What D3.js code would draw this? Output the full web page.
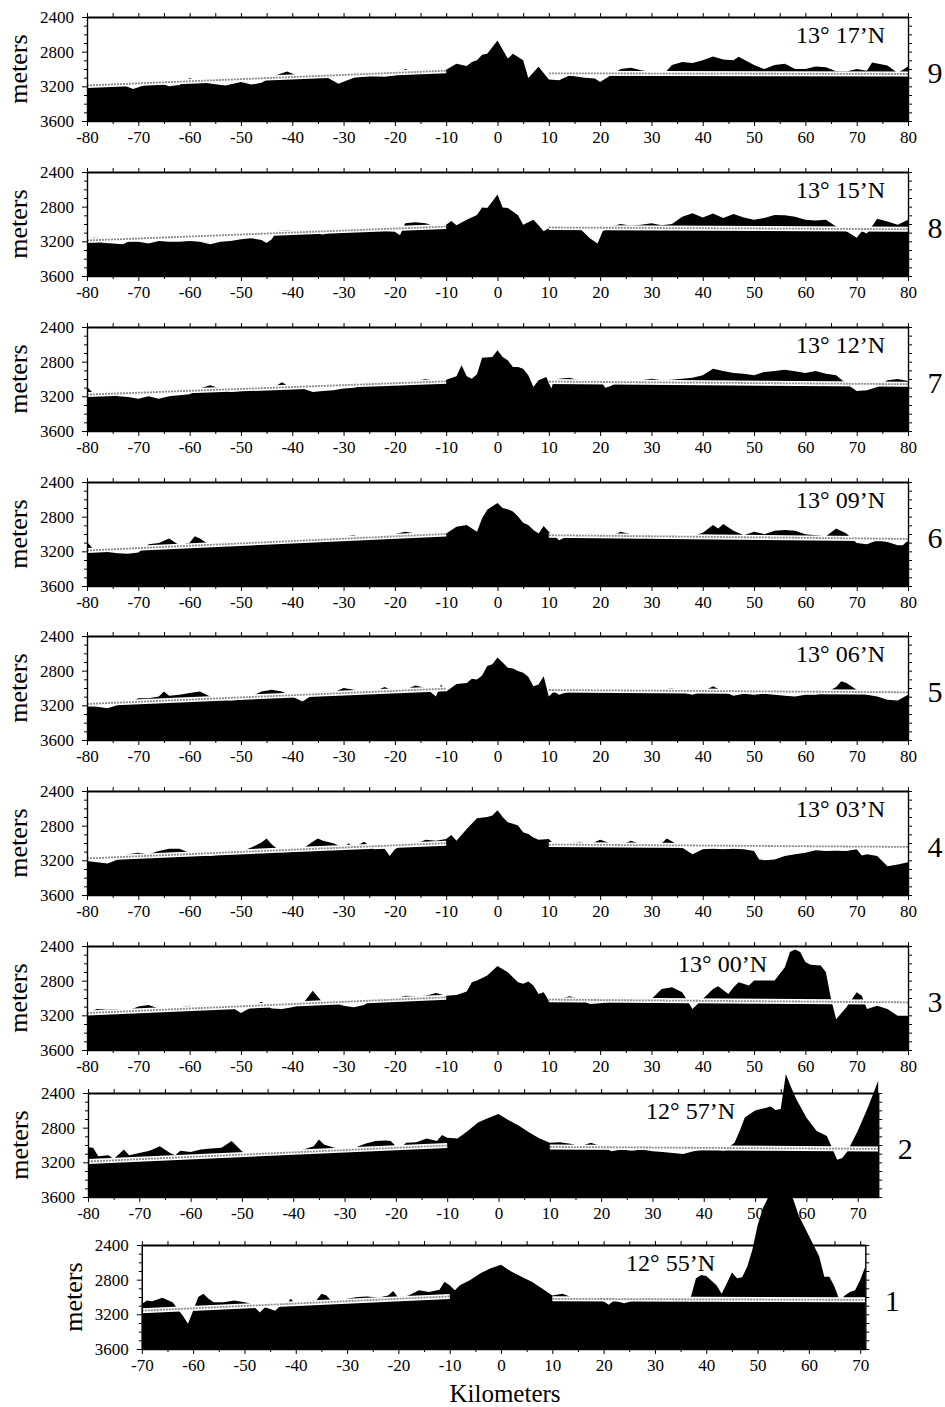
<!DOCTYPE html>
<html lang="en">
<head>
<meta charset="UTF-8" />
<title>Bathymetric profiles across the axis</title>
<script src="https://cdn.jsdelivr.net/npm/d3@7"></script>
<style>
    body { margin: 0; background: #fff; }
    svg { display: block; font-family: "Liberation Serif", "Times New Roman", serif; }
    .axis path, .axis line { stroke: #000; }
    .axis text { fill: #000; font-family: "Liberation Serif", "Times New Roman", serif; }
</style>
</head>
<body>
<svg id="chart" width="945" height="1407"></svg>
<script>
    // profiles, top to bottom
    const panelIds = [9, 8, 7, 6, 5, 4, 3, 2, 1];
    const latLabels = ["13° 17’N", "13° 15’N", "13° 12’N", "13° 09’N", "13° 06’N",
                       "13° 03’N", "13° 00’N", "12° 57’N", "12° 55’N"];
    const kmRanges = [[-80, 80], [-80, 80], [-80, 80], [-80, 80], [-80, 80],
                      [-80, 80], [-80, 80], [-80, 74], [-70, 71]];
    const kmTicks = [-80, -70, -60, -50, -40, -30, -20, -10, 0, 10, 20, 30, 40, 50, 60, 70, 80];
    const kmMinorTicks = [-75, -65, -55, -45, -35, -25, -15, -5, 5, 15, 25, 35, 45, 55, 65, 75];
    const depthTicks = [2400, 2800, 3200, 3600];
    const depthMinorTicks = [2500, 2600, 2700, 2900, 3000, 3100, 3300, 3400, 3500];

    // [km, depth m]
    const prof9 = [[-80,3200],[-78,3195],[-76,3200],[-74,3155],[-73,3185],[-71,3230],[-69,3190],[-67,3135],[-65,3180],[-64,3200],[-62,3185],[-60,3105],[-58,3140],[-57,3160],[-55,3175],[-53,3190],[-50,3150],[-48,3180],[-46,3160],[-44,3090],[-41,3030],[-38,3100],[-35,3100],[-33,3105],[-31,3170],[-28,3100],[-25,3085],[-22,3090],[-20,3075],[-18,3000],[-16,3040],[-14,3000],[-12,3030],[-10,3010],[-8,2940],[-6,2965],[-5,2920],[-4,2900],[-3,2835],[-2,2825],[0,2670],[2,2880],[3,2825],[5,2900],[6,3105],[8,2975],[10,3120],[12,3130],[14,3075],[17,3100],[19,3110],[20,3150],[22,3075],[24,3000],[26,2985],[28,3015],[30,3035],[32,3085],[34,2955],[36,2920],[38,2930],[40,2900],[42,2855],[44,2890],[46,2900],[47,2860],[50,2955],[52,3000],[54,2955],[56,2940],[58,3000],[60,3000],[62,2970],[64,2980],[66,3025],[68,3030],[70,3000],[72,3020],[73,2925],[76,2960],[78,3045],[80,2970]];
    const prof8 = [[-80,3205],[-79,3160],[-78,3160],[-77,3215],[-75,3225],[-73,3235],[-72,3205],[-70,3205],[-68,3225],[-66,3195],[-64,3205],[-62,3205],[-60,3195],[-58,3205],[-56,3235],[-54,3205],[-52,3195],[-50,3175],[-48,3165],[-46,3185],[-45,3220],[-44,3175],[-43,3080],[-40,3070],[-38,3080],[-36,3105],[-34,3120],[-32,3090],[-30,3095],[-28,3085],[-26,3085],[-24,3070],[-22,3080],[-20,3090],[-19,3130],[-18,2990],[-16,2980],[-14,2990],[-12,3030],[-10,3010],[-9,2965],[-8,3015],[-6,2950],[-4,2895],[-3,2810],[-2,2815],[-1,2740],[0,2660],[1,2810],[2,2815],[3,2855],[4,2900],[5,3010],[6,2980],[7,2950],[8,3015],[9,3085],[10,3050],[16,3050],[18,3165],[19.5,3225],[20.5,3085],[22,3030],[24,3000],[26,3020],[28,3010],[30,2990],[32,3015],[34,3000],[36,2915],[38,2875],[40,2925],[42,2880],[44,2930],[46,2885],[48,2925],[50,2950],[52,2930],[54,2895],[56,2900],[58,2915],[60,2950],[62,2960],[64,2950],[66,3030],[68,3085],[70,3160],[71,3085],[72,3110],[74,2940],[76,2970],[78,3010],[80,2950]];
    const prof7 = [[-80,3092],[-79,3150],[-78,3188],[-76,3162],[-75,3142],[-74,3200],[-72,3208],[-70,3227],[-68,3200],[-66,3227],[-64,3200],[-62,3188],[-60,3177],[-58,3111],[-56,3073],[-54,3111],[-52,3150],[-50,3138],[-48,3131],[-46,3123],[-44,3111],[-42,3038],[-40,3111],[-38,3111],[-36,3150],[-34,3138],[-32,3131],[-30,3111],[-28,3100],[-26,3073],[-24,3046],[-22,3035],[-20,3046],[-18,3023],[-16,3027],[-14,2996],[-12,3023],[-10,3008],[-8,2969],[-7,2842],[-6,2969],[-5,2996],[-4,2946],[-3,2754],[-1,2746],[0,2669],[1,2746],[2,2785],[3,2862],[4,2862],[5,2881],[6,2958],[7,3092],[8,3015],[9.5,2977],[10.5,3111],[11,3008],[12,2996],[14,2985],[16,3015],[18,3023],[20,3015],[21,3100],[22,3085],[24,3015],[26,3023],[28,3015],[30,2996],[32,3015],[34,3008],[36,2996],[38,2985],[40,2958],[42,2881],[44,2908],[46,2931],[48,2938],[50,2958],[52,2919],[54,2908],[56,2892],[58,2912],[60,2931],[62,2908],[64,2938],[66,2958],[68,3054],[70,3138],[72,3131],[74,3092],[76,3015],[78,3000],[80,3023]];
    const prof6 = [[-80,3092],[-79,3158],[-78,3170],[-76,3209],[-74,3221],[-72,3229],[-70,3213],[-68,3119],[-66,3104],[-64,3053],[-62,3131],[-60,3100],[-59,3025],[-58,3053],[-56,3131],[-54,3119],[-52,3111],[-50,3119],[-48,3111],[-46,3092],[-44,3111],[-42,3092],[-40,3072],[-38,3065],[-36,3092],[-34,3092],[-32,3072],[-30,3033],[-28,3014],[-26,3053],[-24,3025],[-22,3014],[-20,3002],[-18,2975],[-16,2994],[-14,3025],[-12,2975],[-10,2994],[-8,2916],[-6,2896],[-4,2975],[-3,2818],[-2,2721],[-1,2681],[0,2642],[1,2701],[2,2713],[3,2740],[4,2799],[5,2869],[6,2896],[7,2955],[8,2994],[9,2908],[10,2975],[11,3014],[12,3072],[14,3014],[16,3002],[18,2994],[20,3014],[22,3025],[24,2975],[26,3002],[28,3014],[30,3025],[32,3014],[34,3014],[36,3025],[38,3025],[40,2986],[42,2896],[43,2936],[44,2885],[46,2963],[48,3014],[50,2975],[52,3002],[54,2963],[56,2955],[58,2963],[60,3002],[62,3014],[64,3025],[66,2936],[68,2994],[70,3104],[72,3119],[74,3072],[76,3092],[78,3131],[79,3131],[80,3072]];
    const prof5 = [[-80,3208],[-78,3215],[-76,3235],[-74,3196],[-72,3176],[-70,3117],[-68,3117],[-66,3098],[-65,3039],[-64,3090],[-62,3078],[-60,3059],[-58,3039],[-56,3098],[-54,3137],[-52,3145],[-50,3137],[-48,3098],[-46,3039],[-44,3019],[-42,3039],[-40,3098],[-38,3157],[-36,3078],[-34,3039],[-32,3051],[-30,3000],[-28,3019],[-26,3059],[-24,3039],[-22,2988],[-20,3039],[-18,3019],[-16,2972],[-14,3000],[-12,3098],[-11,2961],[-10,3039],[-8,2953],[-6,2941],[-5,2894],[-4,2902],[-3,2855],[-2,2745],[-1,2725],[0,2647],[1,2706],[2,2765],[3,2776],[4,2804],[5,2823],[6,2870],[7,2980],[8,2961],[9,2863],[10,3098],[11,3039],[12,3078],[14,3039],[16,3039],[18,3000],[20,3051],[22,3027],[24,3039],[26,3051],[28,3047],[30,3039],[32,3027],[34,3000],[36,3051],[38,3078],[40,3039],[42,2980],[44,3039],[46,3090],[48,3066],[50,3078],[52,3066],[54,3078],[56,3090],[58,3098],[60,3078],[62,3078],[64,3051],[66,2988],[67,2921],[68,2941],[70,3019],[72,3078],[74,3098],[76,3137],[78,3145],[80,3078]];
    const prof4 = [[-80,3209],[-78,3221],[-76,3237],[-74,3190],[-72,3131],[-70,3112],[-68,3131],[-66,3092],[-64,3065],[-62,3065],[-60,3112],[-58,3131],[-56,3151],[-54,3131],[-52,3092],[-50,3100],[-48,3053],[-46,2994],[-45,2947],[-44,3014],[-42,3112],[-40,3053],[-38,3065],[-36,2987],[-35,2947],[-34,2975],[-32,3002],[-30,3053],[-29,3002],[-28,3053],[-26,2987],[-24,3073],[-22,3065],[-21,3151],[-20,3073],[-18,3002],[-16,3014],[-14,2963],[-12,2975],[-10,2955],[-9,2908],[-8,2975],[-6,2838],[-4,2713],[-2,2701],[-1,2682],[0,2623],[1,2701],[2,2760],[3,2779],[4,2799],[5,2877],[6,2897],[7,2936],[8,2963],[10,2955],[11,3014],[12,2994],[14,3002],[16,2987],[18,3014],[20,2963],[22,3002],[24,3026],[26,2975],[28,3014],[30,3026],[32,3002],[33,2947],[35,3014],[37,3092],[38,3131],[40,3073],[42,3065],[44,3073],[46,3065],[48,3073],[50,3092],[51,3190],[52,3198],[54,3190],[56,3151],[58,3131],[60,3112],[62,3084],[64,3092],[66,3088],[68,3092],[70,3073],[71,3143],[72,3131],[74,3151],[76,3268],[78,3248],[80,3221]];
    const prof3 = [[-80,3197],[-79,3147],[-78,3128],[-76,3135],[-74,3128],[-72,3147],[-70,3097],[-68,3081],[-66,3120],[-64,3128],[-62,3108],[-60,3089],[-58,3120],[-56,3089],[-54,3089],[-52,3097],[-50,3174],[-48,3108],[-46,3042],[-44,3120],[-42,3128],[-40,3108],[-38,3070],[-36,2915],[-34,3058],[-32,3050],[-30,3089],[-28,3108],[-26,3081],[-24,3004],[-22,3042],[-20,3011],[-18,2973],[-16,2981],[-14,2973],[-12,2942],[-10,2973],[-8,2965],[-6,2926],[-5,2818],[-4,2799],[-2,2741],[0,2632],[2,2702],[3,2760],[4,2818],[5,2837],[6,2810],[7,2857],[8,2953],[9,2934],[10,3031],[12,3011],[14,2981],[16,3011],[18,3070],[20,3062],[22,3042],[24,3011],[26,3050],[28,3042],[30,3011],[32,2895],[34,2876],[36,2934],[38,3128],[40,3011],[42,2895],[43,2864],[45,2953],[46,2876],[47,2818],[49,2857],[50,2799],[54,2799],[56,2644],[57,2470],[58,2439],[59,2470],[60,2586],[61,2617],[63,2624],[64,2702],[65,3011],[66,3244],[68,3108],[70,2934],[71,2973],[72,3128],[74,3089],[76,3128],[78,3205],[80,3205]];
    const prof2 = [[-80,3026],[-79,3033],[-78,3131],[-76,3119],[-75,3162],[-73,3053],[-72,3119],[-70,3092],[-68,3065],[-66,3014],[-64,3092],[-63,3119],[-62,3065],[-60,3080],[-58,3053],[-56,3041],[-54,3033],[-52,2955],[-50,3073],[-49,3104],[-46,3092],[-44,3112],[-42,3092],[-40,3080],[-38,3053],[-36,3014],[-35,2936],[-34,2994],[-32,3033],[-30,3041],[-28,3033],[-26,2987],[-24,2955],[-22,2947],[-21,2955],[-20,3014],[-19,3033],[-18,2975],[-16,2967],[-14,2924],[-12,2955],[-11,2885],[-10,2916],[-8,2924],[-6,2838],[-4,2740],[-2,2689],[0,2642],[2,2713],[4,2779],[6,2857],[8,2924],[10,2975],[12,2967],[14,2987],[16,3014],[18,2975],[20,3014],[22,3073],[24,3053],[26,3065],[28,3053],[30,3073],[32,3080],[34,3092],[36,3104],[38,3073],[40,3053],[42,3053],[44,3065],[46,2975],[47,2838],[48,2682],[50,2603],[52,2572],[53,2556],[54,2596],[55,2584],[56,2180],[57,2330],[58,2466],[60,2682],[62,2838],[64,2897],[65,3033],[66,3170],[67,3151],[68,3073],[70,2838],[72,2564],[74,2260]];
    const prof1 = [[-70,3080],[-69,3041],[-68,3048],[-66,3009],[-64,3060],[-63,3139],[-62,3217],[-61,3308],[-60,3158],[-59,3001],[-58,2962],[-57,3021],[-56,3060],[-54,3060],[-52,3041],[-50,3060],[-49,3072],[-48,3119],[-47,3178],[-46,3119],[-44,3158],[-43,3100],[-42,3100],[-41,3021],[-40,3080],[-38,3048],[-36,3041],[-35,2962],[-34,2982],[-33,3048],[-31,3041],[-30,3021],[-28,3001],[-26,2993],[-24,3009],[-22,2982],[-21,2931],[-20,3009],[-18,2982],[-16,2923],[-14,2942],[-12,2915],[-11,2824],[-10,2864],[-9,2923],[-8,2864],[-6,2805],[-4,2726],[-2,2667],[0,2628],[2,2707],[4,2765],[6,2824],[8,2903],[10,2982],[12,2962],[14,3009],[16,3021],[18,3033],[20,3048],[21,3088],[22,3041],[24,3072],[26,3041],[28,3033],[30,3033],[32,3021],[34,3033],[36,3033],[37,3001],[38,2785],[39,2746],[40,2758],[42,2864],[43,2962],[44,2844],[45,2718],[46,2785],[47,2773],[48,2648],[49,2451],[50,2176],[51,1979],[52,1862],[54,1763],[55,1744],[56,1763],[57,1881],[58,2058],[60,2294],[62,2530],[63,2765],[64,2765],[65,2883],[66,3040],[67,2982],[68,2942],[69,2923],[70,2805],[71,2648]];
    const profiles = [prof9, prof8, prof7, prof6, prof5, prof4, prof3, prof2, prof1];

    // regional trend lines west and east of the axis: [km0, depth0, km1, depth1]
    const trendWest = [[-80,3190,-10,3020],[-80,3190,-10,3030],[-80,3180,-10,3027],[-80,3190,-10,3000],[-80,3184,-10,3008],
                       [-80,3178,-10,3002],[-80,3174,-10,2992],[-80,3190,-10,3006],[-70,3158,-10,2993]];
    const trendEast = [[10,3050,80,3058],[10,3040,80,3060],[10,3030,80,3060],[10,3014,80,3057],[10,3023,80,3050],
                       [10,3018,80,3045],[10,3019,80,3050],[10,3022,74,3045],[10,3021,71,3033]];

    // layout
    const panelTop = [17, 172, 327, 482, 636, 791, 946, 1093, 1245];
    const panelH = 104;
    const xShift = [0, 0, 0, 0, 0, 0, 0, 1, 3.5];
    const latLabelEnd = [885, 885, 885, 885, 885, 885, 767, 735, 715];
    const serifFont = "Liberation Serif, Times New Roman, serif";

    const svg = d3.select("#chart");
    const xBase = d3.scaleLinear().domain([-80, 80]).range([87, 908]);
    const y = d3.scaleLinear().domain([2400, 3600]).range([0, panelH]);

    // d3 axes set their own font; put the serif back
    const serif = (a, size) => {
        a.attr("font-family", serifFont).attr("font-size", size);
        a.selectAll("text").attr("font-family", serifFont).attr("font-size", size);
    };

    panelIds.forEach((id, i) => {
        const [lo, hi] = kmRanges[i];
        const x = d3.scaleLinear().domain([lo, hi])
            .range([xBase(lo) + xShift[i], xBase(hi) + xShift[i]]);
        const g = svg.append("g").attr("transform", `translate(0,${panelTop[i]})`);

        // bathymetry filled down to the bottom of the panel
        const area = d3.area()
            .x(d => x(d[0]))
            .y0(y(3600))
            .y1(d => y(d[1]));
        g.append("path").datum(profiles[i]).attr("d", area).attr("fill", "#000");

        // trend lines
        const line = d3.line().x(d => x(d[0])).y(d => y(d[1]));
        [trendWest[i], trendEast[i]].forEach(t => {
            const pts = [[t[0], t[1]], [t[2], t[3]]];
            g.append("path").attr("d", line(pts)).attr("fill", "none")
                .attr("stroke", "#fff").attr("stroke-width", 5);
            g.append("path").attr("d", line(pts)).attr("fill", "none")
                .attr("stroke", "#8a8a8a").attr("stroke-width", 1.8).attr("stroke-dasharray", "2,1");
        });

        const inX = v => v >= lo && v <= hi;
        const fmt = d => String(d);

        // bottom axis
        g.append("g").attr("class", "axis").attr("transform", `translate(0,${panelH})`)
            .call(d3.axisBottom(x).tickValues(kmMinorTicks.filter(inX)).tickSize(3).tickSizeOuter(0).tickFormat(""));
        g.append("g").attr("class", "axis").attr("transform", `translate(0,${panelH})`)
            .call(d3.axisBottom(x).tickValues(kmTicks.filter(inX)).tickSize(5).tickSizeOuter(0).tickPadding(5).tickFormat(fmt))
            .call(serif, 17)
            .call(a => a.select(".domain").attr("stroke-width", 1.4));

        // top axis
        g.append("g").attr("class", "axis")
            .call(d3.axisTop(x).tickValues(kmTicks.concat(kmMinorTicks).filter(inX)).tickSize(4).tickSizeOuter(0).tickFormat(""))
            .call(a => a.select(".domain").attr("stroke-width", 2));

        // left axis
        g.append("g").attr("class", "axis").attr("transform", `translate(${x(lo)},0)`)
            .call(d3.axisLeft(y).tickValues(depthMinorTicks).tickSize(3).tickSizeOuter(0).tickFormat(""));
        g.append("g").attr("class", "axis").attr("transform", `translate(${x(lo)},0)`)
            .call(d3.axisLeft(y).tickValues(depthTicks).tickSize(5).tickSizeOuter(0).tickPadding(8).tickFormat(fmt))
            .call(serif, 17)
            .call(a => a.select(".domain").attr("stroke-width", 1.4));

        // right axis
        g.append("g").attr("class", "axis").attr("transform", `translate(${x(hi)},0)`)
            .call(d3.axisRight(y).tickValues(depthTicks.concat(depthMinorTicks)).tickSize(4).tickSizeOuter(0).tickFormat(""))
            .call(a => a.select(".domain").attr("stroke-width", 1.4));

        // y title
        g.append("text")
            .attr("transform", `translate(${x(lo) - 60},${panelH / 2}) rotate(-90)`)
            .attr("text-anchor", "middle")
            .attr("font-family", serifFont)
            .attr("font-size", 26)
            .text("meters");

        // latitude of the profile
        g.append("text")
            .attr("x", latLabelEnd[i]).attr("y", 26)
            .attr("text-anchor", "end")
            .attr("font-family", serifFont)
            .attr("font-size", 24)
            .text(latLabels[i]);

        // profile number
        g.append("text")
            .attr("x", x(hi) + 27).attr("y", 66)
            .attr("text-anchor", "middle")
            .attr("font-family", serifFont)
            .attr("font-size", 30)
            .text(id);
    });

    svg.append("text")
        .attr("x", 505).attr("y", 1402)
        .attr("text-anchor", "middle")
        .attr("font-family", serifFont)
        .attr("font-size", 25)
        .text("Kilometers");
</script>
</body>
</html>
